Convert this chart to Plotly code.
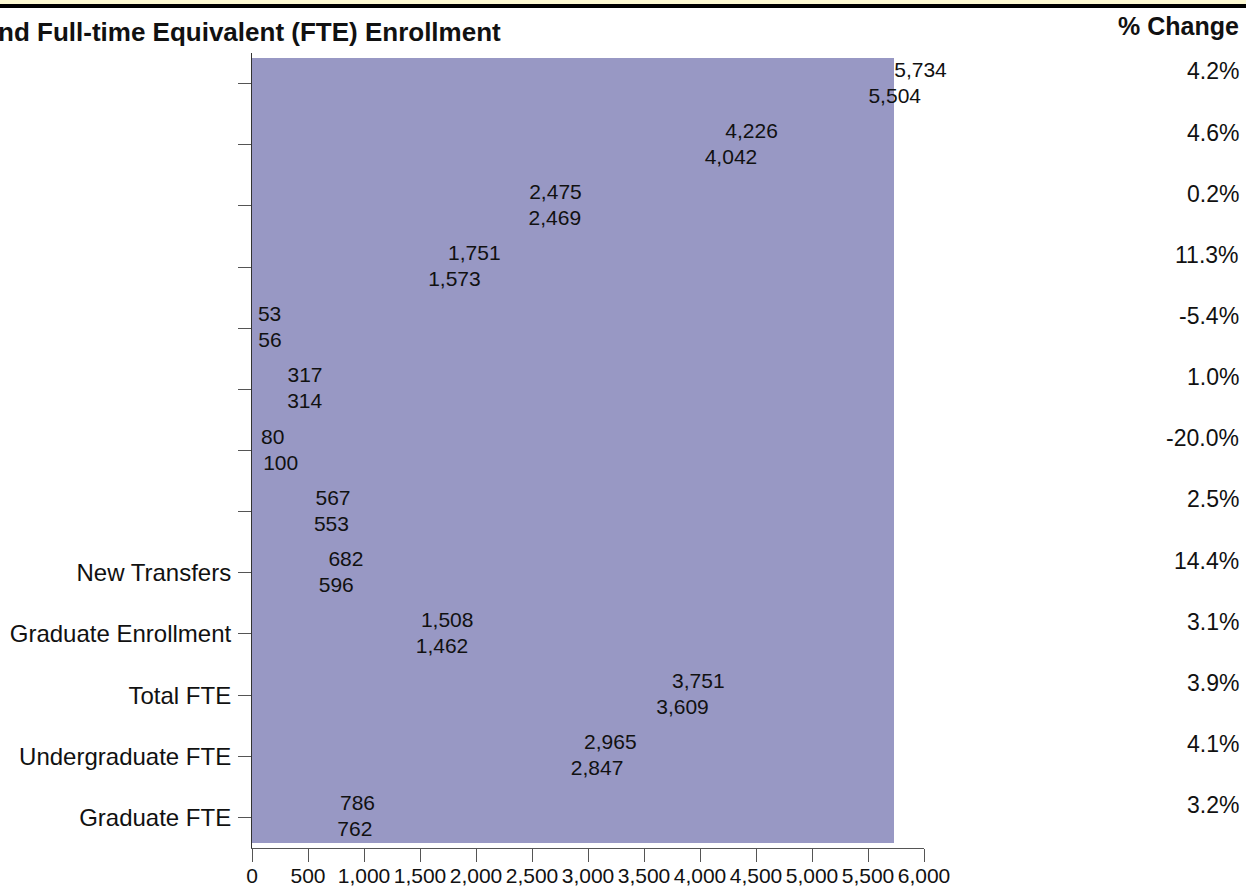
import plotly.graph_objects as go

# ---- data ----
tick_labels = ["", "", "", "", "", "", "", "",
               "New Transfers", "Graduate Enrollment", "Total FTE",
               "Undergraduate FTE", "Graduate FTE"]
current_vals = [5734, 4226, 2475, 1751, 53, 317, 80, 567, 682, 1508, 3751, 2965, 786]
prior_vals = [5504, 4042, 2469, 1573, 56, 314, 100, 553, 596, 1462, 3609, 2847, 762]
pct_change = ["4.2%", "4.6%", "0.2%", "11.3%", "-5.4%", "1.0%", "-20.0%",
              "2.5%", "14.4%", "3.1%", "3.9%", "4.1%", "3.2%"]

n = len(tick_labels)
idx = list(range(n))

W, H = 1246, 888
ML, MR, MT, MB = 252, 322, 53, 40
plot_w = W - ML - MR
plot_h = H - MT - MB

BAR_COLOR = "rgb(152,152,196)"
FONT = "Liberation Sans, Arial, sans-serif"

span_top = -0.418
span_w = 12.836

fig = go.Figure()

# bars (overlaid, each spanning the full band as in the reference)
for vals in (current_vals, prior_vals):
    fig.add_trace(go.Bar(
        orientation="h", y=idx, x=vals,
        width=[span_w] * n,
        offset=[span_top - i for i in idx],
        marker=dict(color=BAR_COLOR, line=dict(width=0)),
        hoverinfo="skip", showlegend=False,
    ))

# value labels
fig.add_trace(go.Scatter(
    x=current_vals, y=[i - 0.2 for i in idx], mode="text",
    text=[f"{v:,}" for v in current_vals], textposition="middle right",
    textfont=dict(family=FONT, size=21, color="#111"),
    showlegend=False, hoverinfo="skip", cliponaxis=False,
))
fig.add_trace(go.Scatter(
    x=prior_vals, y=[i + 0.225 for i in idx], mode="text",
    text=[f"{v:,}" for v in prior_vals], textposition="middle right",
    textfont=dict(family=FONT, size=21, color="#111"),
    showlegend=False, hoverinfo="skip", cliponaxis=False,
))

annotations = []
px_to_paper_x = lambda px: (px - ML) / plot_w
px_to_paper_y = lambda py: (H - MB - py) / plot_h

for i, p in zip(idx, pct_change):
    annotations.append(dict(
        x=px_to_paper_x(1241), xref="paper", y=i - 0.2, yref="y",
        text=p, showarrow=False, xanchor="right", yanchor="middle",
        font=dict(family=FONT, size=23, color="#111"),
    ))

annotations.append(dict(
    x=px_to_paper_x(1241), xref="paper", y=px_to_paper_y(26), yref="paper",
    text="<b>% Change</b>", showarrow=False, xanchor="right", yanchor="middle",
    font=dict(family=FONT, size=25, color="#111"),
))
annotations.append(dict(
    x=px_to_paper_x(503), xref="paper", y=px_to_paper_y(32), yref="paper",
    text="<b>Headcount and Full-time Equivalent (FTE) Enrollment</b>",
    showarrow=False, xanchor="right", yanchor="middle",
    font=dict(family=FONT, size=26, color="#111"),
))

shapes = [
    dict(type="rect", xref="paper", yref="paper",
         x0=px_to_paper_x(-5), x1=px_to_paper_x(W + 5),
         y0=px_to_paper_y(4), y1=px_to_paper_y(-2),
         fillcolor="#fdf9d2", line=dict(width=0), layer="above"),
    dict(type="rect", xref="paper", yref="paper",
         x0=px_to_paper_x(-5), x1=px_to_paper_x(W + 5),
         y0=px_to_paper_y(8), y1=px_to_paper_y(4),
         fillcolor="#000000", line=dict(width=0), layer="above"),
]

fig.update_layout(
    width=W, height=H,
    margin=dict(l=ML, r=MR, t=MT, b=MB, pad=0, autoexpand=False),
    paper_bgcolor="white", plot_bgcolor="white",
    barmode="overlay", bargap=0,
    showlegend=False,
    annotations=annotations, shapes=shapes,
    font=dict(family=FONT, color="#111"),
    xaxis=dict(
        range=[0, 6000], dtick=500, tick0=0, tickformat=",",
        showgrid=False, zeroline=False, automargin=False,
        showline=True, linecolor="#555", linewidth=1,
        ticks="outside", ticklen=13, tickcolor="#555",
        ticklabelstandoff=-4,
        tickfont=dict(family=FONT, size=21, color="#111"),
        fixedrange=True,
    ),
    yaxis=dict(
        range=[n - 0.5, -0.5],
        tickmode="array", tickvals=idx, ticktext=tick_labels,
        showgrid=False, zeroline=False, automargin=False,
        showline=True, linecolor="#333", linewidth=1,
        ticks="outside", ticklen=13, tickcolor="#555",
        ticklabelstandoff=2,
        tickfont=dict(family=FONT, size=24, color="#111"),
        fixedrange=True,
    ),
)

fig.write_html(
    "out.html",
    config={"displayModeBar": False},
    post_script="document.body.style.margin='0';document.body.style.overflow='hidden';",
)
